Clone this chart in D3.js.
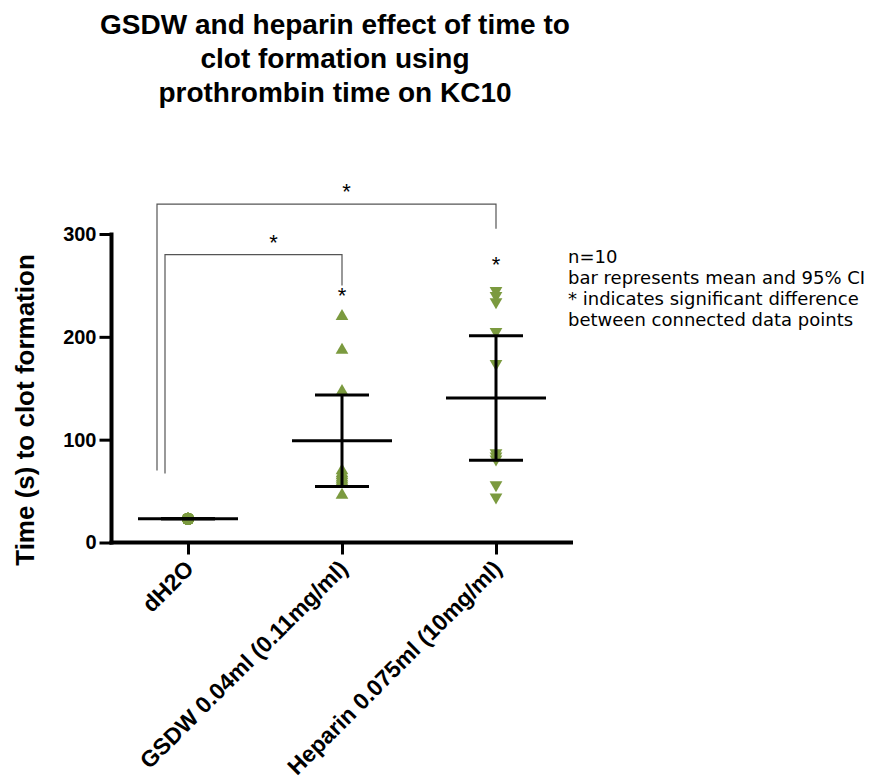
<!DOCTYPE html>
<html>
<head>
<meta charset="utf-8">
<script src="https://cdn.jsdelivr.net/npm/d3@7"></script>
<style>
  body { margin: 0; background: #fff; }
  svg { display: block; }
</style>
</head>
<body>
<svg id="chart" width="875" height="780"></svg>
<script>
(function () {
  "use strict";

  // data
  const groups = ["dH2O", "GSDW 0.04ml (0.11mg/ml)", "Heparin 0.075ml (10mg/ml)"]
  const dH2O = [23, 23, 23, 23, 23, 23, 23, 23, 23, 23]
  const gsdw = [220, 187, 147, 70, 67, 65, 63, 61, 59, 46]
  const heparin = [245, 240, 234, 205, 174, 87, 84, 81, 56, 44]
  const means = [23, 99, 140.5]
  const ciLow = [23, 54.5, 80]
  const ciHigh = [23, 143.5, 201]
  const yTicks = [0, 100, 200, 300]
  const titleLines = ["GSDW and heparin effect of time to", "clot formation using", "prothrombin time on KC10"]
  const noteLines = ["n=10", "bar represents mean and 95% CI", "* indicates significant difference", "between connected data points"]
  // comparisons: bracket height, leg bottoms (data units)
  const brackets = [
    { from: 0, to: 2, top: 329, leftEnd: 70, rightEnd: 305 },
    { from: 0, to: 1, top: 280, leftEnd: 67, rightEnd: 250 }
  ]
  const groupStars = [{ g: 1, v: 245 }, { g: 2, v: 275 }]

  const values = [dH2O, gsdw, heparin]
  const shapes = ["circle", "up", "down"]
  const green = "#7b9a3f"
  const font = "Liberation Sans, Arial, sans-serif"

  let svg = d3.select("#chart")

  let x = d3.scalePoint().domain(groups).range([111, 573]).padding(0.5)
  let y = d3.scaleLinear().domain([0, 300]).range([542.5, 234])

  // title
  svg.append("g").selectAll("text").data(titleLines).join("text")
    .attr("x", 335)
    .attr("y", (d, i) => 34 + i * 34)
    .attr("text-anchor", "middle")
    .attr("font-family", font)
    .attr("font-weight", "bold")
    .attr("font-size", 28)
    .text(d => d)

  // axes
  let yAxis = svg.append("g")
    .attr("transform", "translate(111.5,0)")
    .call(d3.axisLeft(y).tickValues(yTicks).tickSize(12).tickPadding(3).tickSizeOuter(0))
  yAxis.select(".domain").attr("stroke-width", 4).attr("d", "M0," + (y(300) - 1.5) + "V" + (y(0) + 2))
  yAxis.selectAll(".tick line").attr("stroke-width", 3)
  yAxis.selectAll(".tick text")
    .attr("font-family", font)
    .attr("font-weight", "bold")
    .attr("font-size", 20)
    .attr("fill", "#000")

  let xAxis = svg.append("g")
    .attr("transform", "translate(0," + y(0) + ")")
    .call(d3.axisBottom(x).tickSize(12).tickSizeOuter(0))
  xAxis.select(".domain").attr("stroke-width", 4).attr("d", "M109.5,0H573")
  xAxis.selectAll(".tick line").attr("stroke-width", 3)
  xAxis.selectAll(".tick text")
    .attr("font-family", font)
    .attr("font-weight", "bold")
    .attr("font-size", 23)
    .attr("fill", "#000")
    .attr("text-anchor", "end")
    .attr("transform", "translate(1,22) rotate(-45)")
    .attr("dy", "0.35em")
    .attr("y", 0)

  svg.append("text")
    .attr("transform", "translate(34,410) rotate(-90)")
    .attr("text-anchor", "middle")
    .attr("font-family", font)
    .attr("font-weight", "bold")
    .attr("font-size", 26)
    .text("Time (s) to clot formation")

  // significance brackets
  let bg = svg.append("g")
  brackets.forEach(function (b, i) {
    let xl = x(groups[b.from]) - (i === 0 ? 31 : 23)
    let xr = x(groups[b.to])
    let path = d3.path()
    path.moveTo(xl, y(b.leftEnd))
    path.lineTo(xl, y(b.top))
    path.lineTo(xr, y(b.top))
    path.lineTo(xr, y(b.rightEnd))
    bg.append("path")
      .attr("d", path)
      .attr("fill", "none")
      .attr("stroke", "#555")
      .attr("stroke-width", 1.2)
    bg.append("text")
      .attr("x", (xl + xr) / 2 + 20)
      .attr("y", y(b.top) - 5)
      .attr("text-anchor", "middle")
      .attr("font-family", font)
      .attr("font-size", 22)
      .text("*")
  })
  groupStars.forEach(function (s) {
    bg.append("text")
      .attr("x", x(groups[s.g]))
      .attr("y", y(s.v) + 12)
      .attr("text-anchor", "middle")
      .attr("font-family", font)
      .attr("font-size", 22)
      .text("*")
  })

  // points
  let pts = svg.append("g")
  values.forEach(function (vals, gi) {
    let cx = x(groups[gi])
    let sym = shapes[gi] === "circle"
      ? d3.symbol(d3.symbolCircle, 120)
      : d3.symbol(d3.symbolTriangle, 70)
    pts.selectAll(null).data(vals).join("path")
      .attr("d", sym)
      .attr("fill", green)
      .attr("transform", d => "translate(" + cx + "," + y(d) + ")" + (shapes[gi] === "down" ? " rotate(180)" : ""))
  })

  // mean and CI bars
  let bars = svg.append("g").attr("stroke", "#000").attr("stroke-width", 3)
  groups.forEach(function (g, i) {
    let cx = x(g)
    bars.append("line")
      .attr("x1", cx - 50).attr("x2", cx + 50)
      .attr("y1", y(means[i])).attr("y2", y(means[i]))
    bars.append("line")
      .attr("x1", cx).attr("x2", cx)
      .attr("y1", y(ciLow[i])).attr("y2", y(ciHigh[i]))
    ;[ciLow[i], ciHigh[i]].forEach(function (v) {
      bars.append("line")
        .attr("x1", cx - 27).attr("x2", cx + 27)
        .attr("y1", y(v)).attr("y2", y(v))
    })
  })

  // note
  svg.append("g").selectAll("text").data(noteLines).join("text")
    .attr("x", 568)
    .attr("y", (d, i) => 263 + i * 21)
    .attr("font-family", "DejaVu Sans, Verdana, sans-serif")
    .attr("font-size", 18)
    .text(d => d)
})();
</script>
</body>
</html>
